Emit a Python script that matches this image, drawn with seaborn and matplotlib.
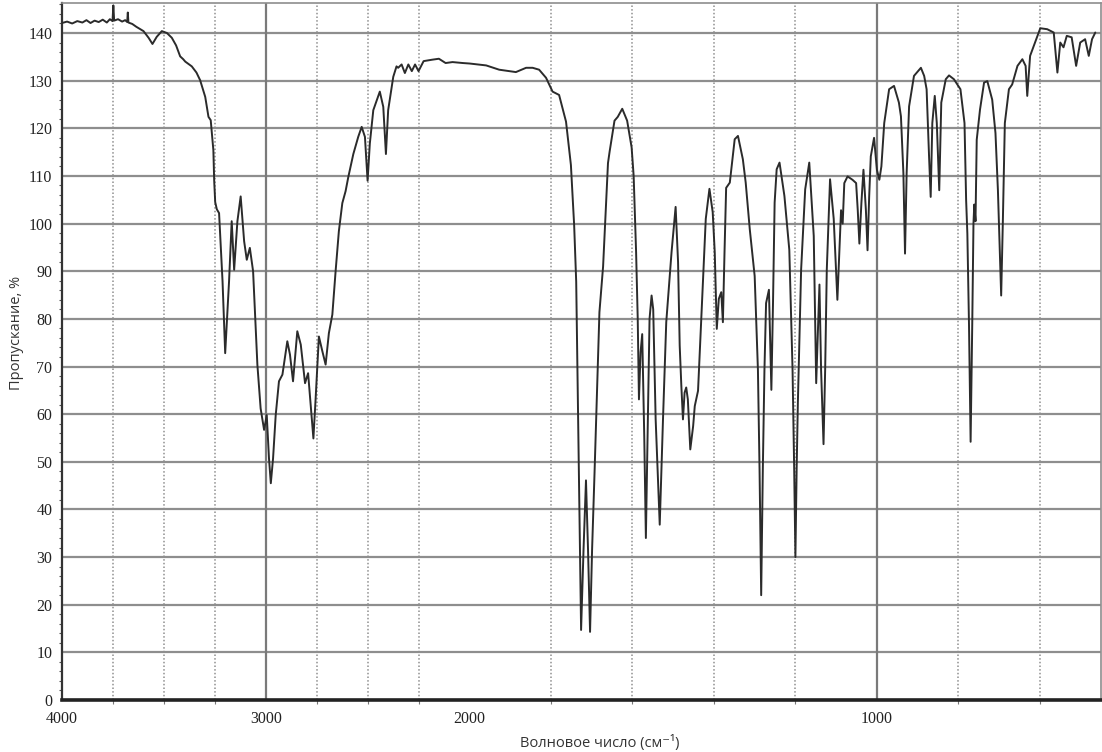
import numpy as np
import pandas as pd
import matplotlib
matplotlib.use("Agg")
import matplotlib.pyplot as plt
from matplotlib.ticker import FixedLocator, MultipleLocator, FixedFormatter
import seaborn as sns

# ---- data ----
wavenumber = [
    4000, 3975, 3950, 3925, 3900, 3880, 3860, 3840, 3820, 3800, 3780, 3765, 3752, 3748, 3744,
    3725, 3705, 3690, 3680, 3677, 3674, 3655, 3635, 3600, 3575, 3556, 3535, 3510, 3485, 3461,
    3440, 3420, 3405, 3395, 3363, 3340, 3322, 3297, 3281, 3270, 3257, 3253, 3248, 3240, 3229,
    3212, 3199, 3180, 3167, 3155, 3139, 3123, 3106, 3093, 3078, 3062, 3041, 3025, 3008, 2995,
    2984, 2975, 2964, 2951, 2935, 2918, 2894, 2881, 2866, 2845, 2828, 2807, 2792, 2775, 2766,
    2755, 2739, 2722, 2706, 2690, 2673, 2657, 2641, 2624, 2608, 2595, 2570, 2546, 2529, 2513,
    2500, 2489, 2472, 2440, 2423, 2410, 2399, 2374, 2358, 2350, 2333, 2317, 2300, 2283, 2267,
    2250, 2225, 2183, 2150, 2117, 2083, 2033, 2000, 1959, 1927, 1886, 1861, 1845, 1829, 1812,
    1796, 1780, 1763, 1751, 1743, 1738, 1734, 1730, 1726, 1720, 1714, 1709, 1704, 1699, 1693,
    1681, 1672, 1660, 1656, 1644, 1636, 1625, 1613, 1602, 1597, 1591, 1587, 1584, 1580, 1576,
    1571, 1567, 1562, 1558, 1553, 1549, 1543, 1533, 1525, 1517, 1504, 1494, 1488, 1484, 1480,
    1476, 1472, 1468, 1464, 1458, 1451, 1447, 1439, 1431, 1420, 1411, 1403, 1398, 1393, 1388,
    1382, 1378, 1374, 1370, 1361, 1349, 1341, 1329, 1322, 1312, 1300, 1292, 1288, 1284, 1280,
    1276, 1272, 1265, 1259, 1255, 1251, 1246, 1239, 1227, 1215, 1207, 1203, 1200, 1197, 1194,
    1186, 1176, 1166, 1155, 1149, 1141, 1137, 1131, 1127, 1123, 1115, 1106, 1097, 1088, 1084,
    1080, 1072, 1060, 1051, 1047, 1043, 1038, 1033, 1027, 1023, 1019, 1015, 1007, 1000, 994,
    989, 982, 970, 958, 946, 941, 935, 931, 927, 921, 909, 892, 884, 878, 872,
    868, 864, 858, 853, 847, 842, 831, 823, 811, 795, 785, 781, 778, 774, 770,
    766, 763, 761, 758, 755, 747, 737, 729, 717, 709, 703, 698, 695, 691, 686,
    676, 668, 655, 643, 635, 631, 624, 615, 599, 582, 566, 557, 550, 542, 534,
    522, 511, 501, 489, 480, 472, 464,
]
transmittance = [
    142.1, 142.4, 142.0, 142.5, 142.2, 142.7, 142.1, 142.6, 142.3, 142.8, 142.2, 142.9, 142.5, 145.8, 142.6,
    142.9, 142.4, 142.7, 142.3, 144.3, 142.2, 141.9, 141.3, 140.4, 139.0, 137.7, 139.2, 140.4, 140.0, 139.0,
    137.4, 135.1, 134.5, 134.0, 133.0, 131.7, 130.1, 126.6, 122.4, 121.7, 115.4, 109.0, 104.5, 103.0, 102.2,
    87.9, 72.8, 87.9, 100.5, 90.3, 100.5, 105.7, 96.3, 92.4, 94.9, 90.0, 70.4, 61.2, 56.7, 59.8,
    50.7, 45.5, 50.7, 59.8, 66.9, 68.3, 75.3, 72.5, 66.9, 77.4, 74.6, 66.5, 68.6, 59.8, 54.9,
    63.3, 76.3, 73.2, 70.4, 77.0, 80.9, 90.0, 98.4, 104.3, 106.8, 109.7, 114.6, 118.2, 120.3, 118.2,
    109.0, 116.8, 123.8, 127.7, 124.5, 114.6, 123.8, 130.8, 133.0, 132.7, 133.4, 131.6, 133.4, 132.0, 133.4,
    132.0, 134.1, 134.4, 134.6, 133.7, 133.9, 133.7, 133.6, 133.2, 132.3, 131.8, 132.7, 132.7, 132.3, 130.6,
    127.7, 127.0, 121.4, 112.3, 99.6, 87.8, 63.7, 39.6, 14.7, 31.6, 46.1, 31.6, 14.3, 31.6, 47.7,
    81.4, 91.0, 112.7, 115.1, 121.6, 122.4, 124.1, 121.6, 116.0, 110.0, 94.0, 80.0, 63.1, 73.0, 76.8,
    55.4, 34.0, 58.9, 80.0, 84.9, 82.0, 58.9, 36.8, 58.9, 79.3, 94.0, 103.5, 91.9, 74.4, 66.0,
    58.9, 64.5, 65.6, 63.1, 52.6, 57.5, 61.7, 64.9, 80.0, 101.0, 107.3, 102.4, 94.0, 77.9, 84.2,
    85.6, 79.3, 94.0, 107.5, 108.6, 117.7, 118.4, 113.5, 108.6, 98.8, 89.0, 69.3, 48.3, 22.0, 48.3,
    69.3, 83.3, 86.1, 65.1, 83.3, 104.4, 111.4, 112.8, 105.8, 94.5, 69.3, 48.3, 30.0, 48.3, 62.3,
    90.3, 107.2, 112.8, 97.4, 66.5, 87.2, 69.3, 53.7, 69.3, 90.3, 109.3, 101.0, 84.0, 102.8, 100.0,
    108.5, 109.9, 109.2, 108.5, 102.8, 95.8, 104.4, 111.3, 102.8, 94.4, 105.6, 114.1, 118.0, 111.3, 109.2,
    112.0, 121.1, 128.2, 128.9, 125.4, 122.5, 110.6, 93.7, 110.6, 124.6, 131.0, 132.7, 131.0, 128.2, 114.1,
    105.6, 121.1, 126.8, 121.1, 107.0, 125.4, 130.3, 131.1, 130.3, 128.2, 121.1, 104.9, 97.9, 78.9, 54.2,
    78.9, 100.0, 104.0, 100.5, 117.6, 123.9, 129.6, 129.9, 126.0, 119.0, 107.0, 93.0, 84.9, 100.0, 121.1,
    128.2, 129.2, 133.1, 134.5, 133.1, 126.8, 135.2, 137.3, 141.0, 140.8, 140.1, 131.7, 138.0, 137.0, 139.4,
    139.1, 133.1, 138.0, 138.7, 135.2, 138.7, 140.1,
]

x_tick_values = [4000, 3000, 2000, 1000]
x_tick_labels = ["4000", "3000", "2000", "1000"]
x_dotted_grid = [3750, 3500, 3250, 2750, 2500, 2250, 2000, 1800, 1600, 1400, 1200, 800, 600]
x_solid_grid = [3000, 1000]
y_tick_values = list(range(0, 150, 10))
y_tick_labels = [str(v) for v in y_tick_values]

x_label = "Волновое число (см⁻¹)"
y_label = "Пропускание, %"

df = pd.DataFrame({"wn": wavenumber, "T": transmittance})

# ---- style ----
sns.set_style("white")
plt.rcParams["font.family"] = ["Liberation Serif", "DejaVu Serif"]

fig = plt.figure(figsize=(11.02, 7.52), dpi=100)
ax = fig.add_axes([62 / 1102, 52 / 752, 1039 / 1102, 697 / 752])

sns.lineplot(data=df, x="wn", y="T", ax=ax, sort=False, estimator=None,
             color="#2b2b2b", linewidth=1.4, zorder=5)


# instrument-style axis: double scale below 2000 cm-1 (increasing mapping)
def fwd(w):
    w = np.asarray(w, dtype=float)
    return np.where(w >= 2000, w - 4000, 2 * w - 6000)


def inv(p):
    p = np.asarray(p, dtype=float)
    return np.where(p >= -2000, p + 4000, (p + 6000) / 2)


ax.set_xscale("function", functions=(fwd, inv))
ax.set_xlim(4000, 450)
ax.set_ylim(0, 146.3)

ax.xaxis.set_major_locator(FixedLocator(x_tick_values))
ax.xaxis.set_major_formatter(FixedFormatter(x_tick_labels))
ax.xaxis.set_minor_locator(FixedLocator(x_dotted_grid))
ax.yaxis.set_major_locator(FixedLocator(y_tick_values))
ax.yaxis.set_major_formatter(FixedFormatter(y_tick_labels))
ax.yaxis.set_minor_locator(MultipleLocator(2))

ax.grid(False)
ax.grid(which="major", axis="y", color="#8e8e8e", linewidth=1.6, zorder=1)
ax.grid(which="minor", axis="x", color="#8f8f8f", linewidth=1.1,
        linestyle=(0, (1, 1.4)), zorder=1)
for xv in x_solid_grid:
    ax.axvline(xv, color="#7a7a7a", linewidth=1.6, zorder=1)

ax.tick_params(axis="both", which="major", labelsize=11.5, length=4, width=1,
               color="#333333", labelcolor="#222222", direction="out", pad=3)
ax.tick_params(axis="y", which="minor", length=2.5, width=0.8, color="#555555",
               direction="out", left=True)
ax.tick_params(axis="x", which="minor", length=3, width=0.8, color="#777777",
               direction="out", bottom=True)
ax.tick_params(axis="x", which="major", pad=4)

for side, spine in ax.spines.items():
    spine.set_visible(True)
ax.spines["left"].set_color("#333333")
ax.spines["left"].set_linewidth(1.6)
ax.spines["bottom"].set_color("#222222")
ax.spines["bottom"].set_linewidth(2.6)
ax.spines["top"].set_color("#8e8e8e")
ax.spines["top"].set_linewidth(1.2)
ax.spines["right"].set_color("#8e8e8e")
ax.spines["right"].set_linewidth(1.2)

ax.set_xlabel(x_label, family=["Open Sans", "DejaVu Sans"], fontsize=10.5, color="#333333")
ax.set_ylabel(y_label, family=["Open Sans", "DejaVu Sans"], fontsize=10.5, color="#333333")
ax.xaxis.set_label_coords(0.518, -0.050)
ax.yaxis.set_label_coords(-0.037, 0.527)

fig.savefig("out.png", dpi=100)
